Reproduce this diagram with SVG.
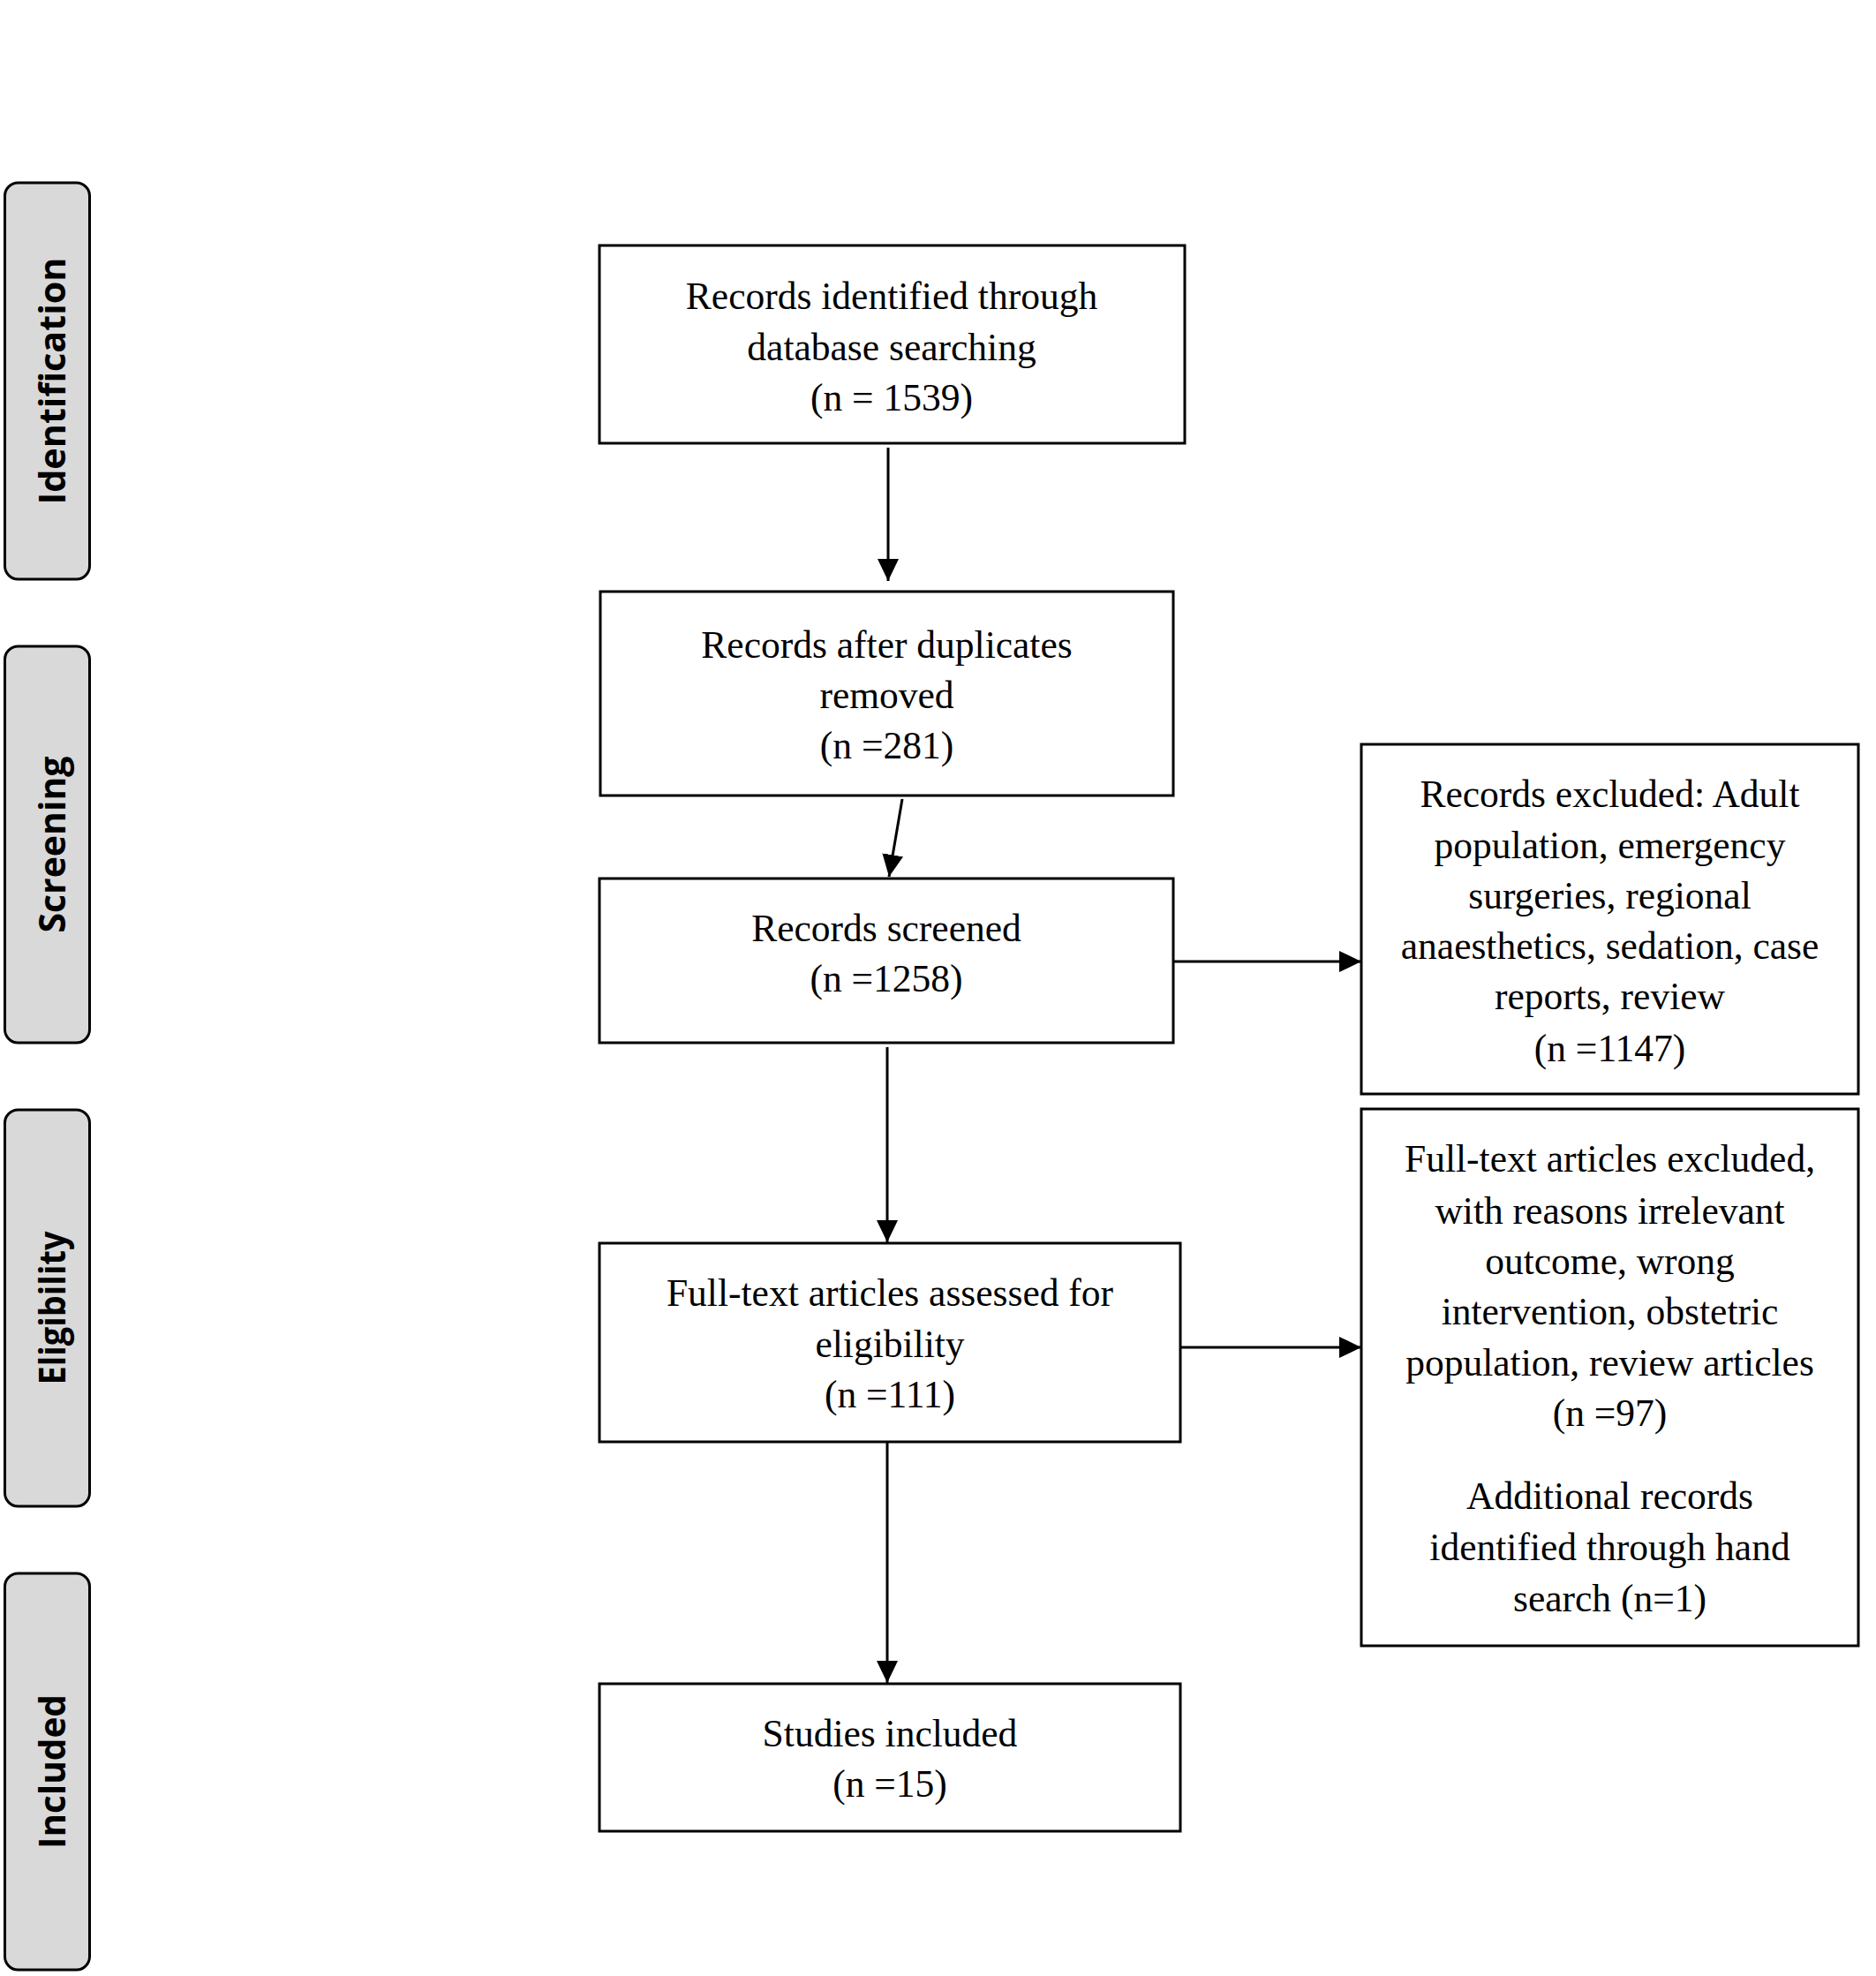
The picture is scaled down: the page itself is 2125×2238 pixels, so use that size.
<svg xmlns="http://www.w3.org/2000/svg" width="2125" height="2238" viewBox="0 0 2125 2238">
<style>
.stage rect{fill:#d9d9d9;stroke:#000;stroke-width:3}
.stage text{font-family:"Open Sans","Liberation Sans",sans-serif;font-weight:bold;font-size:42px;fill:#000;text-anchor:middle}
.box rect{fill:#fff;stroke:#000;stroke-width:3}
.box text{font-family:"Liberation Serif","Times New Roman",serif;font-size:43.5px;fill:#000;text-anchor:middle}
.conn line{stroke:#000;stroke-width:3}
</style>
<defs>
<marker id="ah" markerUnits="userSpaceOnUse" markerWidth="26" markerHeight="26" viewBox="0 0 26 26" refX="25" refY="13" orient="auto">
<polygon points="0,1 25,13 0,25" fill="#000"/>
</marker>
</defs>
<rect width="2125" height="2238" fill="#fff"/>
<g id="stage-identification" class="stage">
<rect x="5.5" y="207" width="96" height="449" rx="15"/>
<text transform="translate(74,431.5) rotate(-90)" textLength="280" lengthAdjust="spacingAndGlyphs">Identification</text>
</g>
<g id="stage-screening" class="stage">
<rect x="5.5" y="732" width="96" height="449" rx="15"/>
<text transform="translate(74,956.5) rotate(-90)" textLength="200" lengthAdjust="spacingAndGlyphs">Screening</text>
</g>
<g id="stage-eligibility" class="stage">
<rect x="5.5" y="1257" width="96" height="449" rx="15"/>
<text transform="translate(74,1481.5) rotate(-90)" textLength="174" lengthAdjust="spacingAndGlyphs">Eligibility</text>
</g>
<g id="stage-included" class="stage">
<rect x="5.5" y="1782" width="96" height="449" rx="15"/>
<text transform="translate(74,2006.5) rotate(-90)" textLength="175" lengthAdjust="spacingAndGlyphs">Included</text>
</g>
<g id="identified" class="box">
<rect x="679" y="278" width="663" height="224"/>
<text x="1010" y="350">Records identified through</text>
<text x="1010" y="407.5">database searching</text>
<text x="1010" y="465">(n = 1539)</text>
</g>
<g id="deduplicated" class="box">
<rect x="680" y="670" width="649" height="231"/>
<text x="1004.5" y="745">Records after duplicates</text>
<text x="1004.5" y="802">removed</text>
<text x="1004.5" y="859">(n =281)</text>
</g>
<g id="screened" class="box">
<rect x="679" y="995" width="650" height="186"/>
<text x="1004" y="1066">Records screened</text>
<text x="1004" y="1123">(n =1258)</text>
</g>
<g id="excluded-records" class="box">
<rect x="1542" y="843" width="563" height="396"/>
<text x="1823.5" y="914">Records excluded: Adult</text>
<text x="1823.5" y="972">population, emergency</text>
<text x="1823.5" y="1029">surgeries, regional</text>
<text x="1823.5" y="1086">anaesthetics, sedation, case</text>
<text x="1823.5" y="1143">reports, review</text>
<text x="1823.5" y="1202">(n =1147)</text>
</g>
<g id="fulltext" class="box">
<rect x="679" y="1408" width="658" height="225"/>
<text x="1008" y="1479">Full-text articles assessed for</text>
<text x="1008" y="1537">eligibility</text>
<text x="1008" y="1594">(n =111)</text>
</g>
<g id="excluded-fulltext" class="box">
<rect x="1542" y="1256" width="563" height="608"/>
<text x="1823.5" y="1327">Full-text articles excluded,</text>
<text x="1823.5" y="1386">with reasons irrelevant</text>
<text x="1823.5" y="1443">outcome, wrong</text>
<text x="1823.5" y="1500">intervention, obstetric</text>
<text x="1823.5" y="1558">population, review articles</text>
<text x="1823.5" y="1615">(n =97)</text>
<text x="1823.5" y="1709">Additional records</text>
<text x="1823.5" y="1767">identified through hand</text>
<text x="1823.5" y="1825">search (n=1)</text>
</g>
<g id="included" class="box">
<rect x="679" y="1907" width="658" height="167"/>
<text x="1008" y="1978">Studies included</text>
<text x="1008" y="2035">(n =15)</text>
</g>
<g id="connectors" class="conn">
<line x1="1006" y1="507" x2="1006" y2="658" marker-end="url(#ah)"/>
<line x1="1022" y1="905" x2="1007" y2="993" marker-end="url(#ah)"/>
<line x1="1329" y1="1089" x2="1542" y2="1089" marker-end="url(#ah)"/>
<line x1="1005" y1="1186" x2="1005" y2="1407" marker-end="url(#ah)"/>
<line x1="1337" y1="1526" x2="1542" y2="1526" marker-end="url(#ah)"/>
<line x1="1005" y1="1633" x2="1005" y2="1906" marker-end="url(#ah)"/>
</g>
</svg>
